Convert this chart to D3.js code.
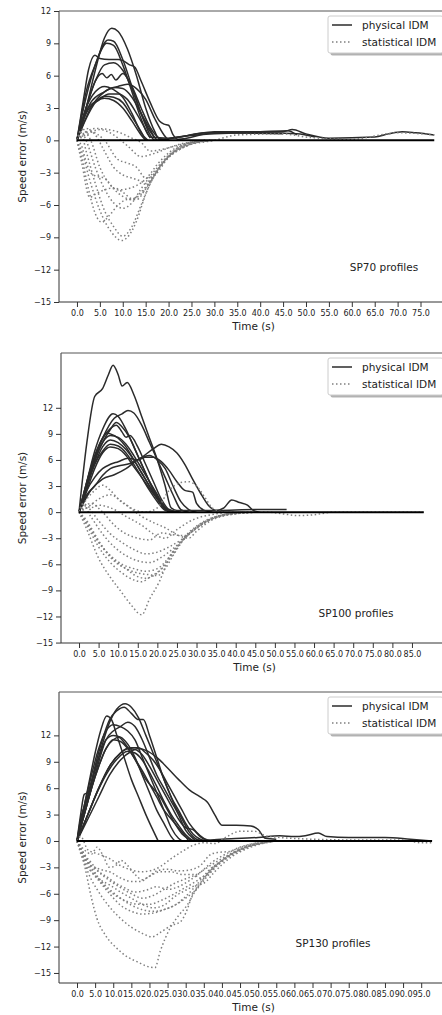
<!DOCTYPE html>
<html>
<head>
<meta charset="utf-8">
<script src="https://cdn.jsdelivr.net/npm/d3@7"></script>
<style>
  body { margin: 0; background: #fff; }
  svg text { font-family: "DejaVu Sans", sans-serif; }
</style>
</head>
<body>
<script>
// ---- data: [time (s), speed error (m/s)] ----
const sp70Physical = [
  [[0,0],[2,3],[4,6.5],[6,9.5],[7.6,10.4],[9,10.1],[11,8.5],[13,6],[15,3],[17,0.8],[18,0.1],[25,0.5],[30,0.8],[45,0.8],[47,1.0],[50,0.6],[55,0.2],[65,0.3],[68,0.6],[71,0.8],[74,0.7],[78,0.5]],
  [[0,0],[2,4],[4,7],[6.8,9.3],[8,9.2],[10,7.5],[12,5],[14,2.5],[16,0.5],[17,0],[22,0.3],[30,0.6],[40,0.7],[48,0.6],[52,0.3]],
  [[0,0],[2,4.5],[4,7],[6.5,9.0],[8,8.8],[10,7],[12,4.5],[14,2],[16,0.3],[20,0.2],[28,0.7],[40,0.8],[46,0.9],[48,0.5]],
  [[0,0],[1.5,4],[2.5,6.5],[3.9,7.9],[5,7.6],[7,7.5],[9,7.5],[10,7.4],[11.5,7.0],[12.6,6.8],[14,5.5],[16,3.5],[18,1.8],[19,1.5],[20,1.4],[21,0.5],[22,0.1],[30,0.7],[45,0.6]],
  [[0,0],[2,3],[4,5.5],[5.5,6.2],[6.5,5.8],[7.5,6.1],[8.5,5.6],[10,6.2],[12,5],[14,3],[16,1.2],[18,0.2],[20,0]],
  [[0,0],[2,3],[4,5.5],[6,7.0],[8,7.2],[10,6.5],[12,4.8],[14,2.5],[16,0.8],[17.5,0]],
  [[0,0],[3,3],[6,4.5],[9,5.0],[11,5.2],[13,4.8],[15,3.8],[17,2],[19,0.5],[20,0]],
  [[0,0],[3,3.5],[6,4.5],[8,4.9],[10,4.8],[12,4.0],[14,2.5],[16,1],[17,0.2]],
  [[0,0],[2,2.5],[5,3.8],[7,4.3],[9,4.3],[11,3.8],[13,2.5],[15,1],[16,0.2]],
  [[0,0],[2,2],[4,3.5],[6,4.1],[8,4.0],[10,3.5],[12,2.2],[14,0.8],[15,0]],
  [[0,0],[2,2.8],[4,3.6],[6,3.9],[8,3.7],[10,3.0],[12,1.8],[14,0.5],[15,0]],
  [[0,0],[2,3],[4,4.5],[6,5.0],[8,4.7],[10,4.0],[12,2.5],[14,0.7],[15.5,0]]
];
const sp70Statistical = [
  [[0,0],[1,-1],[3,-4],[5,-6.5],[7.5,-8.5],[9.8,-9.3],[11,-9],[13,-7.5],[15,-5],[17,-3.2],[20,-1.5],[24,-0.5],[30,0],[35,0.5],[45,0.6],[50,0.3],[60,0.1],[70,0.7],[78,0.5]],
  [[0,0],[1,0.5],[2,-1],[4,-4],[6,-6.5],[8,-8],[10,-8.9],[12,-8],[14,-6],[16,-4],[19,-2],[23,-0.7],[29,0]],
  [[0,0],[1,-1.5],[2.5,-4.5],[4,-6.8],[5.4,-7.6],[7,-7],[9,-6],[11,-5.5],[13,-5.5],[15,-4.5],[18,-2.5],[22,-0.8],[28,0]],
  [[0,0],[1,0.8],[2,0],[4,-2.5],[6,-4.5],[8,-5.8],[10,-6.3],[12,-5.8],[14,-4.5],[17,-2.8],[21,-1],[27,0]],
  [[0,0],[1,-2],[2.8,-5.3],[4,-5],[6,-4.6],[8,-4.4],[10,-4.8],[12,-5.4],[14,-5],[16,-3.8],[19,-2],[24,-0.5],[29,0]],
  [[0,0],[1,1],[3,0],[5,-2.5],[7,-4],[9,-4.6],[11,-4.5],[13,-4.2],[15,-3.6],[18,-2],[22,-0.6],[28,0]],
  [[0,0],[2,1.1],[4,0.5],[6,-1],[8,-2.5],[10,-3.2],[12,-3.5],[14,-3.8],[15,-4],[17,-3],[20,-1.5],[25,-0.3],[29,0]],
  [[0,0],[3,0.8],[6,0],[9,-1.8],[11,-2.1],[13,-2.5],[15,-3.5],[17,-3.2],[20,-1.6],[24,-0.5],[29,0]],
  [[0,0],[2,0.5],[5,1],[8,0.5],[11,-0.5],[14,-1.5],[17,-1.2],[20,-0.7],[25,-0.2],[30,0]],
  [[0,0],[4,1.1],[8,0.9],[12,0.2],[14,-0.2],[16,-1.0],[19,-0.8],[23,-0.3],[30,0]],
  [[0,0],[1,-0.5],[2,-2],[3,-3],[4,-3.3],[6,-3.5],[8,-4.5],[10,-5.2],[12,-5.5],[14,-4.8],[16,-3.8],[19,-2],[23,-0.5],[28,0]]
];
const sp70Zero = [[0,0],[78,0]];

const sp100Physical = [
  [[0,0],[2,8],[4,13.3],[6,14.2],[7.5,15.8],[8.7,16.9],[10,15.8],[11,14.5],[12.3,14.9],[14,13.5],[16,11],[18,8.5],[20,6],[22,3],[23.5,0.5],[25,0.2],[35,0.2],[45,0.3],[53,0.3]],
  [[0,0],[3,5],[6,8.5],[9,10.8],[11,11.3],[12.5,11.7],[14,11.4],[16,10],[18,8],[20,6],[22,4],[24,2],[26,0.3],[28,0]],
  [[0,0],[2,3.5],[4,7],[6,9.5],[8.7,11.3],[10,11],[12,9.5],[14,7.5],[16,5.5],[18,3.5],[20,1.8],[22,0.5],[23,0]],
  [[0,0],[2,3],[5,7],[8,9.5],[9.5,10.3],[11,9.8],[13,8.5],[15,6.5],[17,4.5],[19,2.5],[21,1],[23,0]],
  [[0,0],[2,3],[5,7.5],[8,9.6],[9.5,10.0],[11,9.2],[12,8.6],[13,8.8],[15,7.5],[17,5.5],[19,3.5],[21,1.5],[23,0.3],[26,0]],
  [[0,0],[2,3.5],[4,6.5],[6,8.5],[7,9.1],[8,9.0],[10,8.5],[12,7.5],[14,6],[16,4.5],[18,3],[20,1.5],[22,0.3],[24,0]],
  [[0,0],[2,3],[4,6],[6,8],[8,8.8],[10,8.6],[12,7.8],[14,6.5],[16,5],[18,3.5],[20,2],[22,0.5],[23,0]],
  [[0,0],[2,3],[4,5.5],[6,7.5],[8,8.3],[10,8.0],[12,7.2],[14,6],[16,4.5],[18,3],[20,1.6],[22,0.5],[24,0]],
  [[0,0],[2,2.5],[4,5],[6,6.8],[8,7.5],[10,7.3],[12,6.5],[14,5.2],[16,4],[18,2.7],[20,1.5],[22,0.4],[25,0]],
  [[0,0],[2,2],[4,3],[6,4.2],[8,5],[10,5.3],[13,5.6],[16,6.3],[19,7.3],[21,7.8],[23,7.5],[25,6.8],[27,5.5],[29,3.8],[31,2.2],[33,0.8],[35,0.2],[37,0.5],[39,1.4],[41,1.1],[43,0.8],[44.5,0.2],[46,0]],
  [[0,0],[2,2.5],[4,4],[6,5],[8,5.5],[10,5.8],[12.5,6.2],[15,6.0],[17,6.3],[19,6.3],[21,5.8],[23,4.8],[25,3.5],[27,2.5],[29,2.3],[30,1],[32,0.2],[34,0]],
  [[0,0],[3,2.5],[6,3.8],[9,4.3],[12,5.0],[15,6.0],[18,6.5],[20,6.0],[22,5],[24,3],[26,1.2],[28,0.3],[30,0]],
  [[0,0],[2,3],[4,5.5],[6,7],[8,7.8],[10,7.6],[12,6.8],[14,5.5],[16,4],[18,2.5],[20,1.2],[22,0.2],[24,0]]
];
const sp100Statistical = [
  [[0,0],[2,-2],[5,-5.3],[8,-7.5],[10.5,-9],[13,-10.5],[16,-11.8],[18,-10],[20.5,-8],[23,-5.3],[26,-3.5],[29,-2.1],[32,-1.2],[36,-0.4],[42,-0.1],[48,0],[52,-0.2],[56,-0.4],[60,-0.3],[65,0],[88,0]],
  [[0,0],[2,-1.5],[5,-4],[8,-5.8],[11,-7],[14,-7.8],[16,-8],[18,-7.5],[21,-6.5],[24,-4.5],[27,-2.8],[30,-1.6],[35,-0.5],[42,0]],
  [[0,0],[3,-2],[6,-4],[9,-5.5],[12,-6.5],[15,-7],[18,-7.2],[20,-7.3],[22,-6.5],[24,-5],[27,-3],[30,-1.7],[35,-0.6],[42,0]],
  [[0,0],[2,-1.2],[5,-3.5],[8,-5],[11,-6],[14,-6.5],[17,-6.8],[20,-6.5],[23,-5.2],[26,-3.5],[30,-1.8],[36,-0.4],[43,0]],
  [[0,0],[1,0.8],[3,-0.5],[6,-2.5],[9,-4],[12,-5],[15,-5.6],[18,-5.8],[21,-5.2],[24,-4.2],[27,-3],[30,-1.8],[36,-0.5],[44,0]],
  [[0,0],[2,0.5],[5,-1],[8,-2.5],[11,-3.5],[14,-4.3],[17,-4.8],[20,-4.6],[23,-4],[26,-3.2],[29,-2.2],[33,-1],[38,-0.2],[45,0]],
  [[0,0],[3,1],[6,0],[9,-1.5],[12,-2.5],[15,-3],[18,-3.2],[21,-2.4],[24,-2.6],[27,-2.7],[30,-1.8],[35,-0.6],[44,0]],
  [[0,0],[2,1.5],[4,2.5],[6,3.1],[8,2.5],[10,1.5],[13,0.5],[16,-0.5],[19,-1.2],[22,-1.8],[25,-2.6],[28,-3],[30,-2.2],[34,-0.9],[40,-0.2],[46,0]],
  [[0,0],[2,0.5],[5,1.5],[8,2],[11,1.2],[14,0.3],[17,0],[20,0.5],[23,2.5],[26,3.4],[28,3.5],[30,3],[32,1.8],[34,0.5],[37,0]],
  [[0,0],[2,-1],[4,-2.5],[6,-4],[8,-5.2],[10,-6],[12,-6.5],[14,-7.2],[17,-7.6],[20,-7],[23,-5.5],[26,-3.5],[30,-1.8],[36,-0.4],[44,0]],
  [[0,0],[1,1],[3,0.5],[5,0.8],[8,0.5],[12,-0.5],[16,-1.5],[19,-2.5],[22,-3],[25,-2],[29,-0.9],[35,-0.2],[40,0]]
];
const sp100Zero = [[0,0],[88,0]];

const sp130Physical = [
  [[0,0],[1,3],[2,5.3],[3,5.5],[5,8],[7,11],[9,13.5],[11,15],[13.3,15.6],[15,15.2],[17,14],[19,12],[21,10],[23,8],[25,6],[27,4],[29,2.5],[31,1],[33,0.2],[35,0]],
  [[0,0],[1,2.5],[3,5],[5,8.5],[7,11.5],[9,13.8],[11,14.8],[13,15.2],[15,14.5],[17,13.8],[18.3,13.8],[20,12],[22,9.5],[24,7],[26,5],[28,3.5],[30,2],[32,0.8],[34,0.2],[36,0]],
  [[0,0],[1,2],[2,4],[3,6],[5,10],[6.5,12.5],[8.2,14.2],[9.5,13.8],[11,12],[13,9.5],[15,7],[17,5],[19,3],[21,1.2],[22.4,0]],
  [[0,0],[2,4],[4,7.5],[6,10.5],[8,12.5],[10,13.2],[12,13],[14,12.5],[16,11.5],[18,9.5],[20,7.5],[22,5.5],[24,3.5],[26,1.5],[28,0.3],[29,0]],
  [[0,0],[2,3],[4,6],[6,9],[8,11.5],[10,12.5],[12,13.0],[14,13.5],[16,13],[18,11.5],[20,9.5],[22,7.5],[24,6],[26,4.5],[28,3],[30,1.2],[32,0.3],[33,0]],
  [[0,0],[2,3.5],[4,6.8],[6,9.5],[8,11.5],[10,12.0],[12,11.8],[14,11],[16,9.5],[18,7.5],[20,5.5],[22,3.5],[24,2],[26,0.5],[27,0]],
  [[0,0],[2,3],[4,6],[6,8.5],[8,10.5],[10,11.5],[11.5,11.8],[13,11.2],[15,10],[17,8.5],[19,7],[21,6],[23,5],[25,3.5],[27,2],[29,0.8],[31,0.2],[33,0]],
  [[0,0],[3,3],[6,6],[9,8.5],[12,10],[15,10.6],[17,10.6],[19,10],[21,9.2],[23,8],[25,6.5],[27,5],[29,3.5],[31,2],[33,1],[35,0.3],[37,0]],
  [[0,0],[3,2.5],[6,5],[9,7.5],[12,9.2],[15,10.2],[17,10.5],[19,10.3],[22,9.5],[25,8.3],[28,7],[31,5.8],[34,5],[36,4.4],[38,3],[40,1.8],[44,1.8],[48,1.7],[50,1.3],[52,0.3],[55,0.2]],
  [[0,0],[3,3],[6,6],[9,8.5],[12,10],[14,10.5],[16,10.4],[18,9.8],[20,8.5],[22,7],[24,5.5],[26,4],[28,2.5],[30,1.5],[32,1.3],[34,0.5],[36,0]],
  [[0,0],[2,2],[5,5],[8,7.5],[11,9.3],[14,10.2],[16,10.0],[18,9.2],[20,7.8],[22,6.2],[24,4.5],[26,3],[28,1.8],[30,0.7],[32,0]],
  [[0,0],[2,3],[4,6],[6,8.5],[8,10.5],[10,11.5],[12,11.3],[14,10.5],[16,9.3],[18,8],[20,6.5],[22,5],[24,3.5],[26,2.5],[28,1.5],[30,0.5],[31,0],[40,0.2],[50,0.4],[56,0.6],[60,0.5],[63,0.6],[66.6,0.9],[69,0.5],[75,0.4],[85,0.4],[92,0.2],[98,0]]
];
const sp130Statistical = [
  [[0,0],[1,-1],[2.2,-3],[4,-6.5],[5.5,-8.8],[8,-10.8],[11,-12.2],[14,-13.2],[17,-13.8],[19,-14.2],[21.5,-14.4],[23,-12.5],[25.7,-9.9],[28,-8.5],[30.4,-7.3],[32.5,-5.8],[34.8,-4.4],[37,-3.2],[39.5,-2.4],[43,-1.4],[46.4,-0.8],[50,-0.3],[55,0]],
  [[0,0],[1,-1],[3,-3.5],[6,-5.8],[9,-7.5],[12,-8.8],[15,-9.8],[18,-10.5],[20.7,-10.9],[23,-10.4],[26,-9.6],[28.5,-9.2],[30,-8.2],[32,-6],[34,-4.8],[37,-3.3],[40,-2.2],[45,-1],[50,-0.3],[56,0]],
  [[0,0],[2,-2],[4,-3.5],[6,-4.5],[9,-6],[12,-7.3],[15,-8],[18,-8.3],[21,-8.2],[24,-7.8],[27,-7.3],[30,-6.3],[33,-5],[36,-3.5],[40,-2.2],[46,-0.8],[55,0]],
  [[0,0],[2,-1.8],[4,-3],[6,-4.2],[9,-5.5],[12,-6.5],[15,-7.3],[18,-7.8],[21,-8.0],[24,-7.8],[27,-7.3],[30,-6.5],[33,-5.5],[36,-4],[39,-2.7],[44,-1.2],[52,-0.2]],
  [[0,0],[2,-2.5],[4,-3.5],[6,-4.3],[9,-5],[12,-5.8],[15,-6.5],[18,-7.2],[21,-7.6],[24,-7.3],[27,-6.3],[30,-5.6],[33,-5],[35,-4.8],[38,-3.5],[42,-2],[48,-0.7],[55,0]],
  [[0,0],[1.5,-1.5],[3,-2.5],[5,-3],[7,-3.3],[9,-3.5],[12,-4.2],[15,-4.6],[17.5,-4.6],[20,-4],[23,-3.5],[26,-3.5],[29,-3.8],[32,-3.8],[34,-4.2],[36,-3.8],[39,-2.6],[44,-1.2],[50,-0.3]],
  [[0,0],[2,-1.5],[4,-2.8],[6,-3.5],[8,-4],[10,-4.6],[13,-5.3],[16,-5.8],[19,-5.6],[22,-5.2],[25,-5.5],[28,-5.2],[31,-4.5],[34,-3.6],[37,-2.5],[41,-1.5],[46,-0.6],[54,0]],
  [[0,0],[2,-1],[4,-1.5],[5.5,-0.7],[7,-1.5],[9,-3],[11,-2.7],[12,-2.2],[14,-2.8],[16,-3.8],[18,-4.4],[20,-4],[22,-3.4],[25,-3.2],[28,-3.4],[31,-3.3],[34,-2.8],[37,-1.5],[39,-1.3],[42,-1.2],[45,-0.7],[50,-0.2]],
  [[0,0],[2,-1.5],[4,-2.5],[6,-3.5],[9,-4.5],[12,-5.3],[15,-6],[18,-6.5],[21,-6.2],[24,-5.5],[27,-4.8],[30,-4.3],[33,-3.8],[36,-3],[40,-2],[45,-0.9],[52,-0.2]],
  [[0,0],[1,0.5],[3,-1],[6,-1.5],[9,-2],[12,-2.8],[15,-3.3],[18,-3.5],[21,-3.3],[23,-2.9],[26,-2],[29,-1.2],[32,-0.5],[35,-0.2],[38,-0.3],[41,0.4],[45,1.1],[49,1.1],[52,0.6],[56,0.4],[65,0.2],[80,0.1],[90,0.1],[95,-0.2],[98,-0.2]],
  [[0,0],[1.5,-1.2],[3,-2.5],[5,-3.8],[8,-5.3],[11,-6.3],[14,-6.9],[17,-7.2],[20,-7.2],[23,-6.8],[26,-6.2],[29,-5.5],[32,-4.8],[35,-4],[38,-3],[42,-1.8],[48,-0.6],[55,0]]
];
const sp130Zero = [[0,0],[98,0]];

const yTicks = [-15, -12, -9, -6, -3, 0, 3, 6, 9, 12];
const xTicks70 = [0,5,10,15,20,25,30,35,40,45,50,55,60,65,70,75];
const xTicks100 = [0,5,10,15,20,25,30,35,40,45,50,55,60,65,70,75,80,85];
const xTicks130 = [0,5,10,15,20,25,30,35,40,45,50,55,60,65,70,75,80,85,90,95];
const legendLabels = ["physical IDM", "statistical IDM"];
const panelNames = ["SP70 profiles", "SP100 profiles", "SP130 profiles"];

const panels = [
  { phys: sp70Physical, stat: sp70Statistical, zero: sp70Zero, xTicks: xTicks70, name: panelNames[0],
    xDom: [-3.92, 81.0], yDom: [-15, 12], left: 59, right: 448, top: 11, bottom: 302, nameX: 384, nameY: 267 },
  { phys: sp100Physical, stat: sp100Statistical, zero: sp100Zero, xTicks: xTicks100, name: panelNames[1],
    xDom: [-4.6, 94.2], yDom: [-15.05, 18.3], left: 61, right: 448, top: 353, bottom: 643, nameX: 356, nameY: 613 },
  { phys: sp130Physical, stat: sp130Statistical, zero: sp130Zero, xTicks: xTicks130, name: panelNames[2],
    xDom: [-4.97, 102.4], yDom: [-16.14, 16.93], left: 59, right: 448, top: 692, bottom: 983, nameX: 333, nameY: 943 }
];

const svg = d3.select("body").append("svg")
  .attr("width", 442)
  .attr("height", 1015);

const physColor = "#2b2b2b";
const statColor = "#7f7f7f";

panels.forEach((p, i) => {
  const x = d3.scaleLinear().domain(p.xDom).range([p.left, p.right]);
  const y = d3.scaleLinear().domain(p.yDom).range([p.bottom, p.top]);

  svg.append("clipPath").attr("id", "clip" + i)
    .append("rect")
    .attr("x", p.left).attr("y", p.top)
    .attr("width", p.right - p.left).attr("height", p.bottom - p.top);

  const line = d3.line()
    .x(d => x(d[0]))
    .y(d => y(d[1]))
    .curve(d3.curveMonotoneX);

  const g = svg.append("g").attr("clip-path", "url(#clip" + i + ")");

  g.selectAll("path.phys")
    .data(p.phys)
    .enter().append("path")
    .attr("class", "phys")
    .attr("d", line)
    .attr("fill", "none")
    .attr("stroke", physColor)
    .attr("stroke-width", 1.5);

  g.selectAll("path.stat")
    .data(p.stat)
    .enter().append("path")
    .attr("class", "stat")
    .attr("d", line)
    .attr("fill", "none")
    .attr("stroke", statColor)
    .attr("stroke-width", 1.5)
    .attr("stroke-dasharray", "1.5,2.5");

  g.append("path")
    .datum(p.zero)
    .attr("d", line)
    .attr("fill", "none")
    .attr("stroke", "#000")
    .attr("stroke-width", 2);

  // axes
  const yAxis = d3.axisLeft(y).tickValues(yTicks).tickSize(5).tickPadding(3);
  const xAxis = d3.axisBottom(x).tickValues(p.xTicks).tickSize(5).tickPadding(3)
    .tickFormat(d3.format(".1f"));

  const ya = svg.append("g")
    .attr("transform", "translate(" + p.left + ",0)")
    .call(yAxis);
  const xa = svg.append("g")
    .attr("transform", "translate(0," + p.bottom + ")")
    .call(xAxis);
  [ya, xa].forEach(a => {
    a.select(".domain").remove();
    a.attr("font-family", "DejaVu Sans").attr("font-size", 8);
    a.selectAll(".tick line").attr("stroke", "#333");
    a.selectAll(".tick text").attr("fill", "#222");
  });

  // spines
  svg.append("line").attr("x1", p.left).attr("x2", p.left).attr("y1", p.top).attr("y2", p.bottom)
    .attr("stroke", "#333").attr("stroke-width", 1);
  svg.append("line").attr("x1", p.left).attr("x2", p.right).attr("y1", p.bottom).attr("y2", p.bottom)
    .attr("stroke", "#333").attr("stroke-width", 1);
  svg.append("line").attr("x1", p.left).attr("x2", p.right).attr("y1", p.top).attr("y2", p.top)
    .attr("stroke", "#555").attr("stroke-width", 1);

  // axis labels
  svg.append("text")
    .attr("x", (p.left + p.right) / 2)
    .attr("y", p.bottom + 28)
    .attr("text-anchor", "middle")
    .attr("font-size", 10.5)
    .attr("fill", "#222")
    .text("Time (s)");
  svg.append("text")
    .attr("transform", "translate(26," + (p.top + p.bottom) / 2 + ") rotate(-90)")
    .attr("text-anchor", "middle")
    .attr("font-size", 10.5)
    .attr("fill", "#222")
    .text("Speed error (m/s)");

  // profile name
  svg.append("text")
    .attr("x", p.nameX)
    .attr("y", p.nameY + 4)
    .attr("text-anchor", "middle")
    .attr("font-size", 10.5)
    .attr("fill", "#222")
    .text(p.name);

  // legend
  const lg = svg.append("g").attr("transform", "translate(328," + (p.top + 5) + ")");
  lg.append("rect").attr("x", 2.5).attr("y", 2.5).attr("width", 115).attr("height", 37)
    .attr("rx", 2).attr("fill", "#000").attr("opacity", 0.3);
  lg.append("rect").attr("x", 0).attr("y", 0).attr("width", 115).attr("height", 37)
    .attr("rx", 2).attr("fill", "#fff").attr("stroke", "#ccc").attr("stroke-width", 1);
  legendLabels.forEach((lab, k) => {
    const yy = 9 + k * 17;
    lg.append("line").attr("x1", 4).attr("x2", 24).attr("y1", yy).attr("y2", yy)
      .attr("stroke", k === 0 ? physColor : statColor)
      .attr("stroke-width", 1.5)
      .attr("stroke-dasharray", k === 0 ? null : "1.5,2.5");
    lg.append("text").attr("x", 34).attr("y", yy + 4)
      .attr("font-size", 10.5).attr("fill", "#222")
      .text(lab);
  });
});
</script>
</body>
</html>
